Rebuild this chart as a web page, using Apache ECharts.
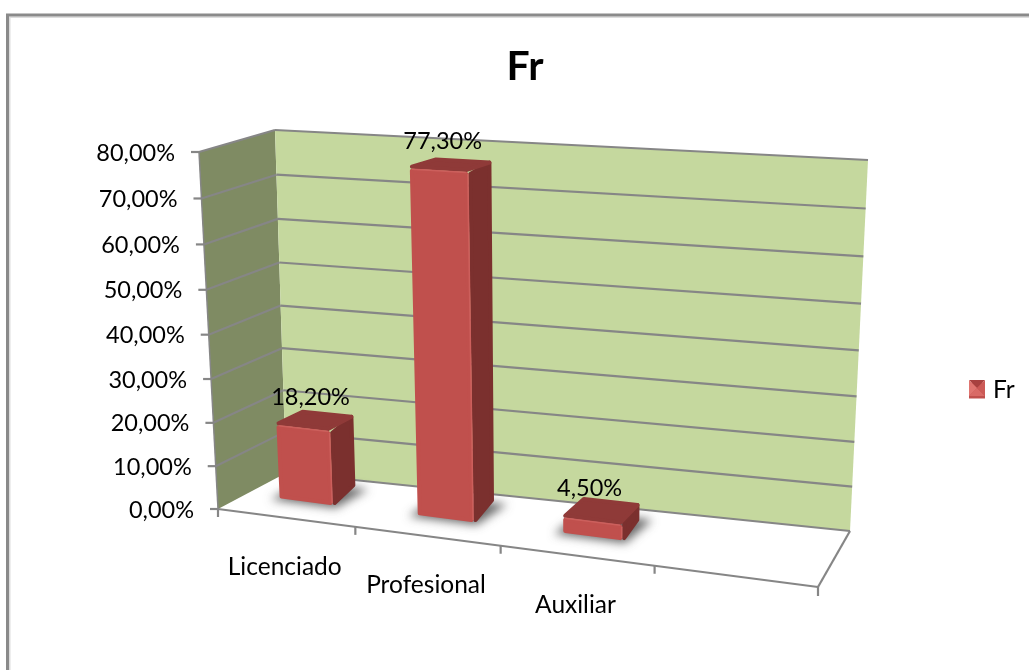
<!DOCTYPE html>
<html>
<head>
<meta charset="utf-8">
<style>
  html, body { margin: 0; padding: 0; background: #ffffff; }
  #chart { width: 1029px; height: 670px; }
</style>
<script src="https://cdn.jsdelivr.net/npm/echarts@6/dist/echarts.min.js"></script>
</head>
<body>
<div id="chart"></div>
<script>
// Chart data
var categories = ['Licenciado', 'Profesional', 'Auxiliar', ''];
var seriesName = 'Fr';
var seriesValues = [18.2, 77.3, 4.5, null];
var valueTicks = [0, 10, 20, 30, 40, 50, 60, 70, 80];

var FONT = 'Lato, Carlito, sans-serif';
var AXIS_GRAY = '#868686';
// The bars stand slightly above the floor plane, on its thickness.
var FLOOR_LIFT = 1.1;

function pct(v) {
  return v.toFixed(2).replace('.', ',') + '%';
}

// Homography from the unit square to a quadrilateral (bl, br, tr, tl).
function quadMap(bl, br, tr, tl) {
  var dx1 = br[0] - tr[0], dx2 = tl[0] - tr[0], sx = bl[0] - br[0] + tr[0] - tl[0];
  var dy1 = br[1] - tr[1], dy2 = tl[1] - tr[1], sy = bl[1] - br[1] + tr[1] - tl[1];
  var den = dx1 * dy2 - dx2 * dy1;
  var g = (sx * dy2 - dx2 * sy) / den;
  var h = (dx1 * sy - sx * dy1) / den;
  var a = br[0] - bl[0] + g * br[0], b = tl[0] - bl[0] + h * tl[0], c = bl[0];
  var d = br[1] - bl[1] + g * br[1], e = tl[1] - bl[1] + h * tl[1], f = bl[1];
  return function (u, v) {
    var w = g * u + h * v + 1;
    return [(a * u + b * v + c) / w, (d * u + e * v + f) / w];
  };
}

// The two planes of the 3D box: the front of the floor and the back wall.
var frontPlane = quadMap([218, 509], [818, 587], [829, 188], [199, 152]);
var backPlane = quadMap([286, 473], [850, 531], [868, 160], [275, 130]);

// Unit box position: u across the categories, v up the value axis, z into depth.
function project(u, v, z) {
  var f = frontPlane(u, v), b = backPlane(u, v);
  return [f[0] + (b[0] - f[0]) * z, f[1] + (b[1] - f[1]) * z];
}

// Read a data point through the cartesian axes and lift it into the box.
function toUnit(api, params, category, value, bandShift) {
  var cs = params.coordSys;
  var p = api.coord([category, value]);
  var band = api.size([1, 0])[0];
  return [(p[0] + (bandShift || 0) * band - cs.x) / cs.width, 1 - (p[1] - cs.y) / cs.height];
}

function poly(points, fill, extra) {
  var style = { fill: fill };
  for (var k in (extra || {})) style[k] = extra[k];
  return { type: 'polygon', shape: { points: points }, style: style };
}

function seg(a, b, width, color) {
  return {
    type: 'line',
    shape: { x1: a[0], y1: a[1], x2: b[0], y2: b[1] },
    style: { stroke: color || AXIS_GRAY, lineWidth: width || 2 }
  };
}

function label(text, x, y, size, align) {
  return {
    type: 'text',
    style: {
      text: text, x: x, y: y, fill: '#000000',
      font: (size || 23.5) + 'px ' + FONT,
      align: align || 'center', verticalAlign: 'middle'
    }
  };
}

function renderWalls(params, api) {
  var side = [project(0, 0, 0), project(0, 0, 1), project(0, 1, 1), project(0, 1, 0)];
  var back = [project(0, 0, 1), project(1, 0, 1), project(1, 1, 1), project(0, 1, 1)];
  var floor = [project(0, 0, 0), project(1, 0, 0), project(1, 0, 1), project(0, 0, 1)];
  return {
    type: 'group',
    children: [
      poly(floor, '#ffffff'),
      poly(side, '#7f8b63'),
      poly(back, '#c5d89e'),
      seg(project(0, 0, 0), project(0, 1, 0), 1.5),
      seg(project(0, 0, 0), project(1, 0, 0), 2.2),
      seg(project(1, 0, 0), project(1, 0, 1), 2.2)
    ]
  };
}

function renderValueTick(params, api) {
  var value = api.value(1);
  var v = toUnit(api, params, 0, value)[1];
  var a = project(0, v, 0);
  var b = project(0, v, 1);
  var c = project(1, v, 1);
  var children = [
    seg(b, c, 2.2),
    seg([a[0] - 8, a[1]], a, 2.2),
    label(pct(value), a[0] - 24, a[1] + 1, 23.5, 'right')
  ];
  if (value > 0) children.push(seg(a, b, 2.2));
  return { type: 'group', children: children };
}

function renderCategoryTick(params, api) {
  var i = api.value(0);
  var edge = toUnit(api, params, i, 0, -0.5)[0];
  var mid = toUnit(api, params, i, 0, 0)[0];
  var p = project(edge, 0, 0);
  var children = [seg(p, [p[0], p[1] + 8], 2.2)];
  if (i === categories.length - 1) {
    var end = project(1, 0, 0);
    children.push(seg(end, [end[0], end[1] + 9], 2.2));
  }
  var m = project(mid, 0, 0);
  children.push(label(categories[i], m[0] - 1, m[1] + 49, 24.5));
  return { type: 'group', children: children };
}

// Pull a quad's corners in, so a round-joined stroke gives it soft corners.
function inset(points, d) {
  var cx = 0, cy = 0;
  points.forEach(function (p) { cx += p[0] / points.length; cy += p[1] / points.length; });
  return points.map(function (p) {
    return [p[0] + (cx > p[0] ? d : -d), p[1] + (cy > p[1] ? d : -d)];
  });
}

function renderBar(params, api) {
  var value = api.value(1);
  if (value == null || isNaN(value)) return;
  var i = api.value(0);
  var u0 = toUnit(api, params, i, 0, -0.19)[0];
  var u1 = toUnit(api, params, i, 0, 0.2)[0];
  var um = toUnit(api, params, i, 0, 0)[0];
  var v = toUnit(api, params, i, value)[1];
  var v0 = toUnit(api, params, i, FLOOR_LIFT)[1];
  var z0 = 0.3, z1x = 0.65, z1y = 0.76;

  function rear(u, w) {
    return [project(u, w, z1x)[0], project(u, w, z1y)[1]];
  }
  var fbl = project(u0, v0, z0), fbr = project(u1, v0, z0);
  var ftl = project(u0, v, z0), ftr = project(u1, v, z0);
  var bbl = rear(u0, v0), bbr = rear(u1, v0);
  var btl = rear(u0, v), btr = rear(u1, v);

  function solid(color) {
    return { stroke: color, lineWidth: 4, lineJoin: 'round' };
  }
  var labelAt = project(um, v, 0.5);
  // Only the blurred shadow lands on the canvas; its solid source sits off to the left.
  var away = 3000;
  var shadowShape = [
    [fbl[0] - 9, fbl[1] + 1], [fbr[0] + 3, fbr[1] + 3],
    [bbr[0] + 13, bbr[1] + 2], [bbl[0], bbl[1]]
  ].map(function (p) { return [p[0] - away, p[1]]; });

  return {
    type: 'group',
    children: [
      poly(shadowShape, '#000000', {
        shadowBlur: 10, shadowColor: 'rgba(70,70,70,0.8)', shadowOffsetX: away, shadowOffsetY: 0
      }),
      poly(inset([fbr, bbr, btr, ftr], 2), '#7b302e', solid('#7b302e')),
      poly(inset([ftl, ftr, btr, btl], 2), '#8f3a38', solid('#8f3a38')),
      poly(inset([fbl, fbr, ftr, ftl], 2), '#c0504d', solid('#c0504d')),
      // Thin highlight along the bevelled front edges.
      seg([ftl[0] + 2, ftl[1] + 0.5], [ftr[0] - 2, ftr[1] + 0.5], 1.5, '#cc5f5c'),
      seg([ftr[0] - 0.5, ftr[1] + 2], [fbr[0] - 0.5, fbr[1] - 2], 1.5, '#cc5f5c'),
      label(pct(value), labelAt[0] - 9 + (0.375 - um) * 14, labelAt[1] - 24)
    ]
  };
}

var valueData = valueTicks.map(function (t) { return [0, t]; });
var categoryData = categories.map(function (c, i) { return [i, 0]; });
var barData = seriesValues.map(function (v, i) { return [i, v]; });

var chart = echarts.init(document.getElementById('chart'));
chart.setOption({
  animation: false,
  backgroundColor: '#ffffff',
  title: {
    text: seriesName,
    left: 520, top: 41, textAlign: 'center',
    textStyle: { fontFamily: FONT, fontWeight: 'bold', fontSize: 41, color: '#000000' }
  },
  legend: {
    data: [{ name: seriesName, icon: 'rect' }],
    left: 964, top: 373,
    itemWidth: 16, itemHeight: 16, itemGap: 0,
    textStyle: { fontFamily: FONT, fontSize: 24.5, color: '#000000', padding: [0, 0, 0, 3] }
  },
  // Unit frame for the box; the projection maps it into perspective.
  grid: { left: 200, top: 100, width: 600, height: 400 },
  xAxis: { type: 'category', data: categories, show: false },
  yAxis: { type: 'value', min: 0, max: 80, interval: 10, show: false },
  graphic: [
    {
      type: 'polyline',
      shape: { points: [[9.75, 670], [9.75, 17.25], [1029, 17.25]] },
      style: { stroke: '#dddddd', lineWidth: 1.5, fill: 'none' }
    },
    {
      type: 'polyline',
      shape: { points: [[7.5, 670], [7.5, 15], [1029, 15]] },
      style: { stroke: '#8a8a8a', lineWidth: 3, fill: 'none' }
    },
    { type: 'polygon', z: 100, shape: { points: [[969, 380], [985, 380], [977, 388]] }, style: { fill: '#a8413f' } },
    { type: 'polygon', z: 100, shape: { points: [[969, 396], [985, 396], [977, 388]] }, style: { fill: '#d96a66' } },
    { type: 'polygon', z: 100, shape: { points: [[969, 380], [969, 396], [977, 388]] }, style: { fill: '#e07570' } },
    { type: 'polygon', z: 100, shape: { points: [[985, 380], [985, 396], [977, 388]] }, style: { fill: '#cc5a56' } }
  ],
  series: [
    { type: 'custom', silent: true, name: 'walls', data: [[0, 0]], renderItem: renderWalls, z: 1 },
    { type: 'custom', silent: true, name: 'value ticks', data: valueData, renderItem: renderValueTick, z: 2 },
    { type: 'custom', silent: true, name: 'category ticks', data: categoryData, renderItem: renderCategoryTick, z: 2 },
    { type: 'custom', name: seriesName, data: barData, renderItem: renderBar, z: 3,
      itemStyle: { color: '#c0504d' }, encode: { x: 0, y: 1 } }
  ]
});
</script>
</body>
</html>
